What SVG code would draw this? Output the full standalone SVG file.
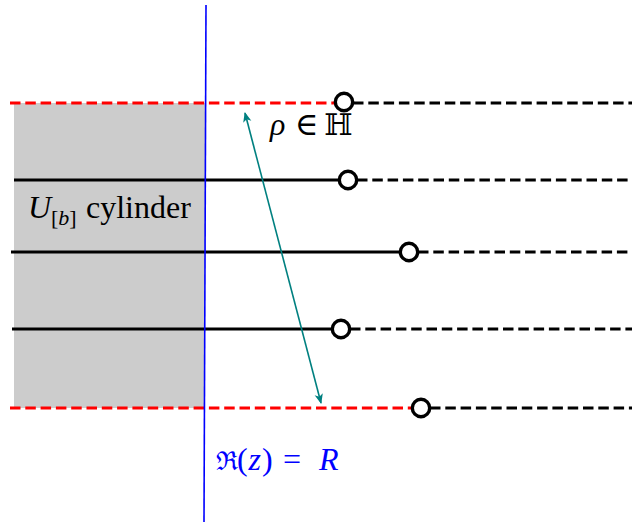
<svg xmlns="http://www.w3.org/2000/svg" width="632" height="525" viewBox="0 0 632 525">
<style>
.red{stroke:#ff0000;stroke-width:3.2;stroke-dasharray:10.5 4.8;fill:none}
.sol{stroke:#000;stroke-width:3.2;fill:none}
.dsh{stroke:#000;stroke-width:3.2;stroke-dasharray:10.5 4.8;fill:none}
.pt{fill:#fff;stroke:#000;stroke-width:3.4}
text{font-family:'Liberation Serif','DejaVu Serif',serif;font-size:32px;fill:#000}
.i{font-style:italic}
.b{fill:#0000ff}
</style>
<defs>
<marker id="ah" viewBox="0 0 10 10" refX="9" refY="5" markerWidth="10" markerHeight="10" markerUnits="userSpaceOnUse" orient="auto-start-reverse">
<path d="M0,0.8 L10,5 L0,9.2 L2.5,5 Z" fill="#008080"/>
</marker>
</defs>
<rect id="cylinder" x="14" y="103" width="191" height="305" fill="#cccccc"/>
<g id="connectors">
<line class="red" x1="10" y1="103" x2="336" y2="103"/>
<line class="dsh" x1="353" y1="103" x2="632" y2="103"/>
<line class="sol" x1="14" y1="180" x2="340" y2="180"/>
<line class="dsh" x1="357" y1="180" x2="632" y2="180"/>
<line class="sol" x1="11" y1="252" x2="401" y2="252"/>
<line class="dsh" x1="418" y1="252" x2="632" y2="252"/>
<line class="sol" x1="12" y1="329" x2="333" y2="329"/>
<line class="dsh" x1="350" y1="329" x2="632" y2="329"/>
<line class="red" x1="10" y1="408" x2="413" y2="408"/>
<line class="dsh" x1="430" y1="408" x2="632" y2="408"/>
<line x1="206" y1="5" x2="204" y2="522" stroke="#0000ff" stroke-width="1.6"/>
<line x1="245" y1="113" x2="321" y2="403" stroke="#008080" stroke-width="1.6" marker-start="url(#ah)" marker-end="url(#ah)"/>
</g>
<g id="points">
<circle class="pt" cx="344" cy="102" r="8.7"/>
<circle class="pt" cx="348" cy="180" r="8.7"/>
<circle class="pt" cx="409" cy="252" r="8.7"/>
<circle class="pt" cx="341" cy="329" r="8.7"/>
<circle class="pt" cx="421" cy="408" r="8.7"/>
</g>
<g id="label-cylinder">
<text x="28" y="218" class="i">U</text>
<text x="51" y="225" style="font-size:22px">[<tspan class="i">b</tspan>]</text>
<text x="86" y="218">cylinder</text>
</g>
<g id="label-rho">
<text x="270" y="135" class="i">ρ</text>
<text x="295" y="135">∈</text>
<text x="324" y="135" style="font-size:30px">ℍ</text>
</g>
<g id="label-re">
<text x="216" y="470" class="b" style="font-size:26px">ℜ</text>
<text x="237" y="470" class="b">(</text>
<text x="248.5" y="470" class="b i">z</text>
<text x="262" y="470" class="b">)</text>
<text x="283" y="470" class="b">=</text>
<text x="319" y="470" class="b i">R</text>
</g>
</svg>
